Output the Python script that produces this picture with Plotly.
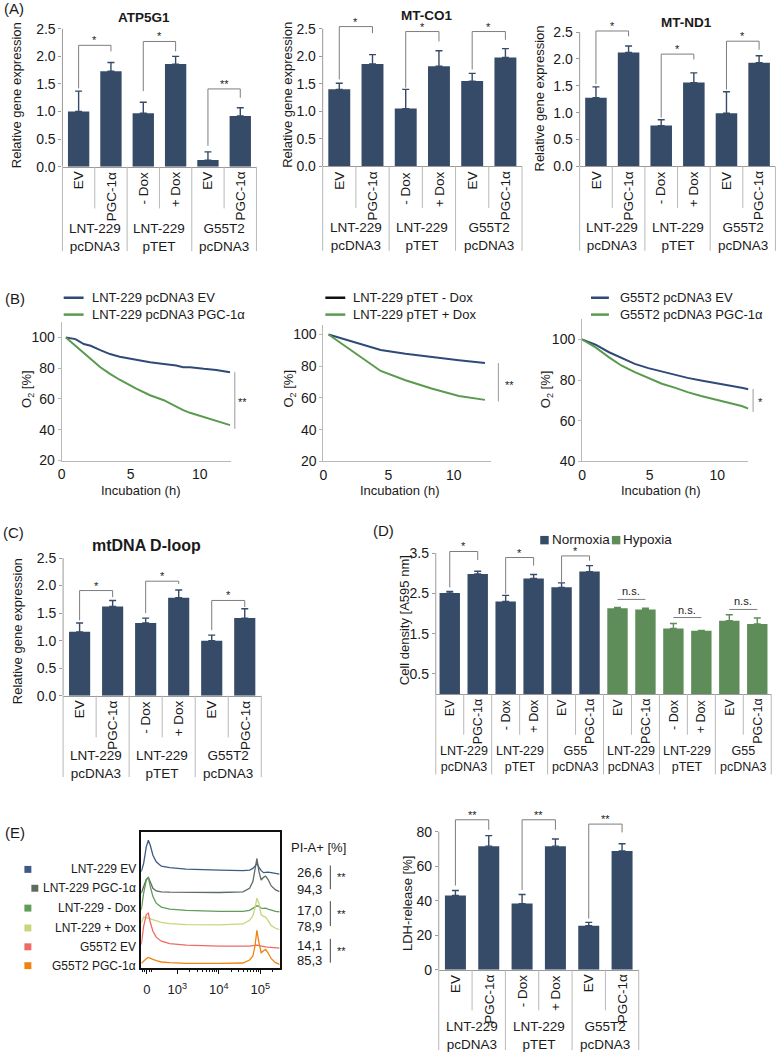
import plotly.graph_objects as go

W, H = 780, 1061
FONT = "Liberation Sans, Arial, Helvetica, sans-serif"
TXT = "#1a1a1a"
NAVY = "#364B67"
GREEN = "#5E8D5A"
LNAVY = "#2F4A78"
LGREEN = "#5A9A4E"
AX = "#9a9a9a"
BR = "#7d7d7d"
TB = "#b8b8b8"

# ---------------- data ----------------
bar_labels = ["EV", "PGC-1α", "- Dox", "+ Dox", "EV", "PGC-1α"]
group_labels = ["LNT-229<br>pcDNA3", "LNT-229<br>pTET", "G55T2<br>pcDNA3"]

atp5g1 = [1.00, 1.73, 0.97, 1.86, 0.12, 0.92]
atp5g1_err = [0.37, 0.16, 0.20, 0.14, 0.15, 0.15]
atp5g1_sig = [(0, 1, 2.20, 1.42, 2.09, "*"), (2, 3, 2.27, 1.37, 2.09, "*"), (4, 5, 1.41, 0.38, 1.25, "**")]

mtco1 = [1.40, 1.86, 1.05, 1.82, 1.55, 1.98]
mtco1_err = [0.11, 0.17, 0.35, 0.28, 0.14, 0.16]
mtco1_sig = [(0, 1, 2.54, 1.58, 2.42, "*"), (2, 3, 2.45, 1.43, 2.27, "*"), (4, 5, 2.45, 1.76, 2.30, "*")]

mtnd1 = [1.28, 2.12, 0.76, 1.56, 0.99, 1.93]
mtnd1_err = [0.20, 0.12, 0.11, 0.18, 0.40, 0.13]
mtnd1_sig = [(0, 1, 2.52, 1.53, 2.42, "*"), (2, 3, 2.09, 0.91, 1.99, "*"), (4, 5, 2.33, 1.43, 2.17, "*")]

dloop = [1.16, 1.62, 1.32, 1.78, 1.00, 1.41]
dloop_err = [0.16, 0.11, 0.09, 0.14, 0.10, 0.17]
dloop_sig = [(0, 1, 1.91, 1.37, 1.79, "*"), (2, 3, 2.08, 1.50, 2.03, "*"), (4, 5, 1.73, 1.19, 1.61, "*")]

# (B) oxygen consumption
b1_t = [0.3, 1.0, 1.6, 2.1, 2.8, 3.5, 4.2, 5.4, 6.4, 7.4, 8.3, 8.8, 9.3, 10.3, 11.2, 12.2]
b1_ev = [100, 98.9, 95.7, 94.6, 91.8, 89.2, 87.5, 85.4, 83.9, 82.8, 81.7, 80.6, 80.6, 79.6, 78.9, 77.4]
b1_pgc = [100, 94.6, 89.7, 86.0, 80.6, 76.3, 72.5, 66.7, 62.4, 59.2, 54.8, 52.7, 51.0, 48.4, 45.8, 43.0]
b2_t = [0.4, 2.5, 4.4, 6.3, 8.3, 10.4, 12.4]
b2_minus = [100, 95.0, 90.2, 87.8, 85.7, 83.7, 82.0]
b2_plus = [100, 87.8, 77.0, 71.2, 66.0, 61.3, 58.8]
b3_t = [0, 1.0, 2.0, 2.9, 3.9, 4.9, 5.9, 6.9, 7.8, 8.8, 9.8, 10.8, 11.8, 12.3]
b3_ev = [100, 97.4, 93.7, 90.9, 88.0, 85.9, 84.2, 82.8, 81.1, 79.8, 78.7, 77.4, 76.2, 75.5]
b3_pgc = [100, 96.1, 91.2, 87.2, 83.9, 81.1, 78.2, 76.2, 74.1, 72.2, 70.6, 68.9, 67.3, 66.0]
b_legends = [("LNT-229 pcDNA3 EV", "LNT-229 pcDNA3 PGC-1α"),
             ("LNT-229 pTET - Dox", "LNT-229 pTET + Dox"),
             ("G55T2 pcDNA3 EV", "G55T2 pcDNA3 PGC-1α")]
b_sig = [(77.4, 40.6, "**", 58.0), (82.0, 57.8, "**", 68.3), (75.6, 64.4, "*", 69.3)]

# (D) cell density
d_labels = bar_labels * 2
d_groups = ["LNT-229<br>pcDNA3", "LNT-229<br>pTET", "G55<br>pcDNA3"] * 2
d_normoxia = [2.51, 2.98, 2.30, 2.87, 2.65, 3.04]
d_normoxia_err = [0.04, 0.07, 0.15, 0.10, 0.11, 0.15]
d_hypoxia = [2.13, 2.10, 1.63, 1.57, 1.82, 1.74]
d_hypoxia_err = [0.02, 0.03, 0.12, 0.01, 0.15, 0.15]
d_sig = [(0, 1, 3.54, 2.65, 3.33, "*"), (2, 3, 3.39, 2.49, 3.19, "*"), (4, 5, 3.43, 2.78, 3.31, "*")]
d_ns = [(6, 7, 2.35), (8, 9, 1.90), (10, 11, 2.10)]

# (E) LDH release
ldh = [43.0, 71.6, 38.3, 71.6, 25.5, 68.8]
ldh_err = [2.9, 6.1, 5.3, 4.2, 1.9, 4.2]
ldh_sig = [(0, 1, 86.9, 48.8, 81.1, "**"), (2, 3, 86.9, 46.2, 81.1, "**"), (4, 5, 84.4, 29.6, 79.6, "**")]

# (E) PI histograms (display scale 0..1, stacked heights)
hist_x = [0, .017, .036, .051, .065, .084, .108, .145, .205, .325, .566, .735, .783, .807,
          .822, .836, .851, .867, .884, .899, .916, .94, .971, 1.0]
hist_names = ["LNT-229 EV", "LNT-229 PGC-1α", "LNT-229 - Dox", "LNT-229 + Dox", "G55T2 EV", "G55T2 PGC-1α"]
hist_colors = ["#3D5A87", "#5F6B5F", "#5E9E58", "#C9D47E", "#EE6B63", "#F0820F"]
hist_ev = [96.7, 105, 121.7, 128.3, 123.3, 113.3, 106.7, 102.3, 100.7, 99.3, 98.3, 97.7, 98.3, 100,
           102.3, 105, 101, 97.7, 95.7, 96, 96.3, 95.7, 95, 94.3]
hist_pgc = [75, 81.7, 89, 91, 86.7, 80, 77.3, 76.3, 76, 75.7, 75.7, 76.3, 80, 86.7, 98.3, 110, 96.7,
            88.3, 91, 92.3, 89, 82.3, 78.3, 76.7]
hist_mdox = [58.3, 75, 88.3, 91, 81.7, 71.7, 65, 61, 59, 57.7, 56.7, 56.7, 57.7, 59.7, 61, 62.3, 61.7,
             60, 59.7, 60, 59, 57.7, 56.7, 56.3]
hist_pdox = [45, 51, 50.3, 49.7, 49, 48.3, 47, 45.7, 44.3, 43.3, 43, 44, 47.7, 52.3, 60, 70, 65, 53.3,
             51.7, 51, 47.7, 42.3, 39.7, 38.3]
hist_g_ev = [23.3, 41.7, 53.3, 55, 45.7, 36.7, 30.7, 26.7, 24.3, 22.7, 21.7, 21.3, 21.7, 22.3, 22.7,
             22.7, 22.3, 21.7, 21.3, 21, 20.7, 20.3, 20, 19.7]
hist_g_pgc = [4.3, 6.7, 9, 10.3, 9.7, 8.3, 7, 5.7, 5, 4.3, 4.3, 4.7, 7.7, 11.7, 21.7, 37.7, 25, 15, 17,
              18.3, 15, 9, 5, 3.3]
hist_curves = [hist_ev, hist_pgc, hist_mdox, hist_pdox, hist_g_ev, hist_g_pgc]
pi_values = ["26,6", "94,3", "17,0", "78,9", "14,1", "85,3"]
hist_ticks = ["0", "10<sup>3</sup>", "10<sup>4</sup>", "10<sup>5</sup>"]

# ---------------- helpers ----------------
fig = go.Figure()
L = {}
shapes, annots = [], []
_n = [0]


def PX(px):
    return px / W


def PY(py):
    return 1 - py / H


def dom_x(a, b):
    return [a / W, b / W]


def dom_y(top, bot):
    return [1 - bot / H, 1 - top / H]


def new_axes(xdom, ydom, xo, yo):
    _n[0] += 1
    k = _n[0]
    s = "" if k == 1 else str(k)
    base = dict(showgrid=False, zeroline=False, tickfont=dict(size=14, color=TXT, family=FONT))
    xa = dict(base); xa.update(domain=xdom, anchor="y" + s); xa.update(xo)
    ya = dict(base); ya.update(domain=ydom, anchor="x" + s); ya.update(yo)
    L["xaxis" + s] = xa
    L["yaxis" + s] = ya
    return "x" + s, "y" + s


def text(x, y, s, size=13, xanchor="center", yanchor="middle", angle=0, bold=False,
         color=TXT, xref="paper", yref="paper", **kw):
    annots.append(dict(x=x, y=y, xref=xref, yref=yref, text=(f"<b>{s}</b>" if bold else s),
                       showarrow=False, xanchor=xanchor, yanchor=yanchor, textangle=angle,
                       font=dict(size=size, color=color, family=FONT), **kw))


def line_paper(x0, y0, x1, y1, color, width=1):
    shapes.append(dict(type="line", xref="paper", yref="paper", x0=PX(x0), y0=PY(y0),
                       x1=PX(x1), y1=PY(y1), line=dict(color=color, width=width)))


def rect_paper(x0, y0, x1, y1, color):
    shapes.append(dict(type="rect", xref="paper", yref="paper", x0=PX(x0), y0=PY(y0),
                       x1=PX(x1), y1=PY(y1), line=dict(width=0), fillcolor=color))


def add_table(xid, labels, groups, axis_py, short=42, long=85, grp=70, size=13.5):
    n = len(labels)
    for i in range(n + 1):
        y1 = axis_py + (long if i % 2 == 0 else short)
        if i == 0 or i == n:
            xr, xv = xid + " domain", (0 if i == 0 else 1)
        else:
            xr, xv = xid, i - 0.5
        shapes.append(dict(type="line", xref=xr, yref="paper", x0=xv, x1=xv, y0=PY(axis_py),
                           y1=PY(y1), line=dict(color=TB, width=1)))
    for i, lab in enumerate(labels):
        text(i, PY(axis_py + 3), lab, size=size, yanchor="top", angle=-90, xref=xid)
    for g, lab in enumerate(groups):
        text(2 * g + 0.5, PY(axis_py + grp), lab, size=size, xref=xid)


def add_sig(xid, yid, sigs, size=11):
    for a, b, yh, yl, yr, lab in sigs:
        shapes.append(dict(type="path", xref=xid, yref=yid,
                           path=f"M {a},{yl} L {a},{yh} L {b},{yh} L {b},{yr}",
                           line=dict(color=BR, width=1)))
        text((a + b) / 2, yh, lab, size=size, yanchor="bottom", xref=xid, yref=yid, yshift=-3)


def add_ns(xid, yid, items, size=11):
    for a, b, yh in items:
        shapes.append(dict(type="line", xref=xid, yref=yid, x0=a, x1=b, y0=yh, y1=yh,
                           line=dict(color=BR, width=1)))
        text((a + b) / 2, yh, "n.s.", size=size, yanchor="bottom", xref=xid, yref=yid)


def yline(xid, yid, y0, y1):
    shapes.append(dict(type="line", xref=xid + " domain", yref=yid, x0=0, x1=0, y0=y0, y1=y1,
                       line=dict(color=AX, width=1)))


def bar_axes(px_l, px_r, py_zero, py_tick, tick_v, rmax, n, tickvals, tickfmt):
    s = (py_zero - py_tick) / tick_v
    return new_axes(dom_x(px_l, px_r), dom_y(py_zero - rmax * s, py_zero),
                    dict(range=[-0.5, n - 0.5], showline=True, linecolor=AX, linewidth=1,
                         ticks="", showticklabels=False, fixedrange=True),
                    dict(range=[0, rmax], showline=False, ticks="outside", ticklen=3,
                         tickcolor=AX, tickvals=tickvals, tickformat=tickfmt))


def add_bars(xid, yid, xs, vals, errs, color, width):
    fig.add_trace(go.Bar(x=xs, y=vals, width=width, marker=dict(color=color, line=dict(width=0)),
                         error_y=dict(type="data", array=errs, arrayminus=[0] * len(errs),
                                      symmetric=False, color=color, thickness=1.4, width=3.5),
                         xaxis=xid, yaxis=yid, showlegend=False))


# ---------------- panel A ----------------
A_specs = [
    (58.75, 253.75, 168.0, 29.0, "ATP5G1", atp5g1, atp5g1_err, atp5g1_sig, (141, 18), 12, 96),
    (320.3, 520.7, 167.7, 29.0, "MT-CO1", mtco1, mtco1_err, mtco1_sig, (425, 16), 285, 96),
    (578.6, 775.4, 167.7, 32.3, "MT-ND1", mtnd1, mtnd1_err, mtnd1_sig, (686, 23), 538, 99),
]
ticks_a = [0, 0.5, 1.0, 1.5, 2.0, 2.5]
for pl, pr, pz, pt, title, vals, errs, sigs, tpos, ytx, yty in A_specs:
    xid, yid = bar_axes(pl, pr, pz, pt, 2.5, 2.7, 6, ticks_a, ".1f")
    add_bars(xid, yid, list(range(6)), vals, errs, NAVY, 0.66)
    yline(xid, yid, 0, 2.5)
    add_table(xid, bar_labels, group_labels, pz, short=42, long=85, grp=71)
    add_sig(xid, yid, sigs)
    text(PX(tpos[0]), PY(tpos[1]), title, size=13.5, bold=True)
    text(PX(ytx), PY(yty), "Relative gene expression", size=13, angle=-90)
text(PX(10), PY(9), "(A)", size=15)

# ---------------- panel B ----------------
B_specs = [
    (58.0, 13.87, 12.3, 100, 340.0, 1.55, [20, 110], [20, 40, 60, 80, 100],
     b1_t, b1_ev, b1_pgc, LNAVY, (60, 80, 86), 23, 138),
    (321.0, 13.1, 12.9, 100, 337.0, 1.60, [20, 106], [20, 40, 60, 80, 100],
     b2_t, b2_minus, b2_plus, "#111111", (323, 343, 349), 287, 398),
    (581.0, 13.6, 12.3, 100, 342.0, 2.05, [40, 110], [40, 60, 80, 100],
     b3_t, b3_ev, b3_pgc, LNAVY, (590, 608, 617), 545, 660),
]
for k, (x0p, sx, xmax, yv, ypy, sy, yr, yt, tt, c1, c2, legc, legx, otx, itx) in enumerate(B_specs):
    xdom = dom_x(x0p, x0p + xmax * sx)
    ytop = ypy - (yr[1] - yv) * sy
    ybot = ypy + (yv - yr[0]) * sy
    xid, yid = new_axes(xdom, dom_y(ytop, ybot),
                        dict(range=[0, xmax], showline=True, linecolor=TB, ticks="",
                             tickvals=[0, 5, 10], ticklabelstandoff=1),
                        dict(range=yr, showline=True, linecolor=TB, ticks="outside", ticklen=3,
                             tickcolor=TB, tickvals=yt))
    fig.add_trace(go.Scatter(x=tt, y=c1, mode="lines", line=dict(color=LNAVY, width=2),
                             xaxis=xid, yaxis=yid, showlegend=False))
    fig.add_trace(go.Scatter(x=tt, y=c2, mode="lines", line=dict(color=LGREEN, width=2),
                             xaxis=xid, yaxis=yid, showlegend=False))
    ytop_v, ybot_v, lab, laby = b_sig[k]
    xs_line = [1.02, 1.041, 1.028][k]
    xs_txt = [1.067, 1.107, 1.07][k]
    shapes.append(dict(type="line", xref=xid + " domain", yref=yid, x0=xs_line, x1=xs_line,
                       y0=ytop_v, y1=ybot_v, line=dict(color=AX, width=1)))
    text(xs_txt, laby, lab, size=11, xref=xid + " domain", yref=yid)
    la, lb, ltx = legx
    line_paper(la, 300, lb, 300, legc, 2.5)
    line_paper(la, 317, lb, 317, LGREEN, 2.5)
    text(PX(ltx), PY(300), b_legends[k][0], size=13, xanchor="left")
    text(PX(ltx), PY(317), b_legends[k][1], size=13, xanchor="left")
    text(PX(otx), PY(392), "O<sub>2</sub> [%]", size=13, angle=-90)
    text(PX(itx), PY(494), "Incubation (h)", size=13)
text(PX(11), PY(301), "(B)", size=15)

# ---------------- panel C ----------------
xid, yid = bar_axes(59.4, 258.6, 701.0, 562.3, 2.5, 2.7, 6, ticks_a, ".1f")
add_bars(xid, yid, list(range(6)), dloop, dloop_err, NAVY, 0.64)
yline(xid, yid, 0, 2.5)
add_table(xid, bar_labels, group_labels, 701.0, short=42, long=82, grp=69)
add_sig(xid, yid, dloop_sig)
text(PX(143), PY(550), "mtDNA D-loop", size=16, bold=True)
text(PX(13), PY(636), "Relative gene expression", size=13, angle=-90)
text(PX(10), PY(537), "(C)", size=15)

# ---------------- panel D ----------------
xid, yid = bar_axes(434.0, 771.2, 699.3, 557.3, 3.5, 3.8, 12, [0.5, 1.5, 2.5, 3.5], ".1f")
add_bars(xid, yid, list(range(6)), d_normoxia, d_normoxia_err, NAVY, 0.73)
add_bars(xid, yid, list(range(6, 12)), d_hypoxia, d_hypoxia_err, GREEN, 0.73)
yline(xid, yid, 0, 3.5)
add_table(xid, d_labels, d_groups, 699.3, short=41, long=81, grp=65, size=12.5)
add_sig(xid, yid, d_sig)
add_ns(xid, yid, d_ns)
text(PX(402), PY(625), "Cell density [A595 nm]", size=13, angle=-90)
text(PX(381), PY(535), "(D)", size=15)
rect_paper(539, 540, 547.5, 548.5, NAVY)
text(PX(549), PY(544), "Normoxia", size=13.5, xanchor="left")
rect_paper(611, 540, 619.5, 548.5, GREEN)
text(PX(620), PY(544), "Hypoxia", size=13.5, xanchor="left")

# ---------------- panel E (LDH) ----------------
xid, yid = bar_axes(437.0, 638.0, 977.0, 838.0, 80, 95, 6, [0, 20, 40, 60, 80], "d")
add_bars(xid, yid, list(range(6)), ldh, ldh_err, NAVY, 0.63)
yline(xid, yid, 0, 80)
add_table(xid, bar_labels, group_labels, 977.0, short=41, long=81, grp=66)
add_sig(xid, yid, ldh_sig)
text(PX(405), PY(910), "LDH-release [%]", size=13, angle=-90)

# ---------------- panel E (histograms) ----------------
major = [0.04, 0.26, 0.56, 0.86]
minor = [0.012, 0.02, 0.06, 0.075,
         .350, .403, .441, .470, .493, .514, .531, .546,
         .650, .703, .741, .770, .793, .814, .831, .846, .950]
xid, yid = new_axes(dom_x(138, 277), dom_y(838, 975),
                    dict(range=[0, 1], showline=True, mirror=True, linecolor="#111111", linewidth=1.5,
                         ticks="outside", ticklen=5, tickcolor="#111111", tickvals=major,
                         ticktext=hist_ticks, tickfont=dict(size=13, color=TXT, family=FONT),
                         ticklabelstandoff=4,
                         minor=dict(tickvals=minor, ticks="outside", ticklen=3, tickcolor="#111111")),
                    dict(range=[0, 137], showline=True, mirror=True, linecolor="#111111", linewidth=1.5,
                         ticks="", showticklabels=False))
for name, col, cur in zip(hist_names, hist_colors, hist_curves):
    fig.add_trace(go.Scatter(x=hist_x, y=cur, mode="lines", line=dict(color=col, width=1.3),
                             xaxis=xid, yaxis=yid, showlegend=False, name=name))

leg_y = [876, 895, 915, 935, 954, 973]
sw_x = [24, 31, 24, 24, 24, 24]
for name, col, yy, sx in zip(hist_names, hist_colors, leg_y, sw_x):
    rect_paper(sx - 3.5, yy - 3.5, sx + 3.5, yy + 3.5, col)
    text(PX(135), PY(yy), name, size=12, xanchor="right")
text(PX(11), PY(839), "(E)", size=15)
text(PX(316), PY(854), "PI-A+ [%]", size=13)
num_y = [879, 896, 917, 934, 953, 968]
for v, yy in zip(pi_values, num_y):
    text(PX(307), PY(yy), v, size=13)
for y0, y1, ys in [(872, 896, 884), (908, 933, 921), (946, 970, 958)]:
    line_paper(328, y0, 328, y1, "#444444", 1)
    text(PX(339), PY(ys), "**", size=11)

fig.update_layout(
    width=W, height=H, margin=dict(l=0, r=0, t=0, b=0),
    paper_bgcolor="white", plot_bgcolor="rgba(0,0,0,0)",
    font=dict(family=FONT, size=13, color=TXT),
    showlegend=False, bargap=0.3,
    shapes=shapes, annotations=annots, **L,
)
fig.write_html("out.html", config={"displayModeBar": False},
               post_script="document.body.style.margin='0';document.body.style.padding='0';"
                           "document.body.style.overflow='hidden';")
